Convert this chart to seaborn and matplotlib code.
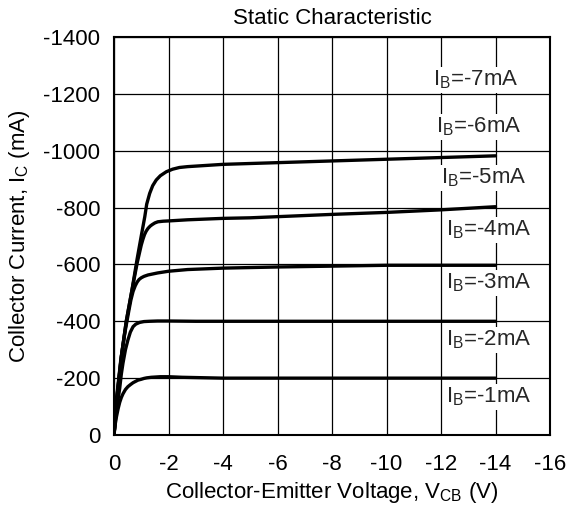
import numpy as np
import pandas as pd
import seaborn as sns
import matplotlib
matplotlib.use("Agg")
import matplotlib.pyplot as plt

# 読み取った特性曲線 (V_CB [V], I_C [mA])
v_ib1 = [0, -0.04, -0.09, -0.15, -0.21, -0.27, -0.33, -0.42, -0.51, -0.6, -0.7, -0.8, -0.88, -1.0, -1.1, -1.2, -1.37,
         -1.7, -2.0, -2.5, -3, -4, -6, -8, -10, -12, -14]
i_ib1 = [0, -35, -64, -92, -115, -132, -145, -160, -170, -177, -184, -189, -193, -196, -199, -201, -203,
         -205, -205, -203, -202, -200, -200, -200, -200, -200, -200]

v_ib2 = [0, -0.08, -0.15, -0.21, -0.27, -0.33, -0.42, -0.51, -0.6, -0.7, -0.8, -0.94, -1.1, -1.3, -1.6, -2, -3, -5,
         -8, -11, -14]
i_ib2 = [0, -80, -125, -165, -215, -253, -300, -334, -362, -381, -390, -396, -399, -400, -401, -401, -400, -400,
         -400, -400, -400]

v_ib3 = [0, -0.1, -0.25, -0.4, -0.55, -0.62, -0.7, -0.78, -0.85, -0.92, -1.0, -1.1, -1.25, -1.6, -2.0, -2.7, -4,
         -6, -8, -10, -12, -14]
i_ib3 = [0, -135, -265, -360, -440, -475, -505, -525, -538, -547, -553, -558, -563, -570, -576, -582, -587,
         -591, -594, -597, -597, -597]

v_ib4 = [0, -0.1, -0.27, -0.45, -0.66, -0.85, -1.0, -1.06, -1.12, -1.18, -1.25, -1.33, -1.4, -1.5, -1.61, -1.8,
         -2.0, -2.7, -4, -5, -6, -7, -8, -10, -12, -14]
i_ib4 = [0, -125, -276, -400, -510, -605, -668, -688, -705, -717, -727, -735, -740, -746, -750, -752,
         -753, -757, -762, -764, -768, -772, -776, -783, -792, -803]

v_ib5 = [0, -0.1, -0.27, -0.45, -0.66, -0.85, -1.0, -1.13, -1.2, -1.31, -1.42, -1.55, -1.7, -1.92, -2.15, -2.4,
         -2.7, -4, -6, -8, -10, -12, -14]
i_ib5 = [0, -125, -276, -400, -510, -620, -700, -768, -812, -850, -877, -897, -912, -926, -935, -941,
         -944, -952, -958, -964, -970, -976, -982]

curve_names = ["-1mA", "-2mA", "-3mA", "-4mA", "-5mA"]
curve_v = [v_ib1, v_ib2, v_ib3, v_ib4, v_ib5]
curve_i = [i_ib1, i_ib2, i_ib3, i_ib4, i_ib5]

# ラベル文字列と配置 (左端の V, 中心の I)
label_texts = ["-1mA", "-2mA", "-3mA", "-4mA", "-5mA", "-6mA", "-7mA"]
label_v = [-12.2, -12.2, -12.2, -12.2, -12.0, -11.8, -11.7]
label_i = [-134, -334, -535, -721, -904, -1083, -1249]

x_ticks = [0, -2, -4, -6, -8, -10, -12, -14, -16]
y_ticks = [0, -200, -400, -600, -800, -1000, -1200, -1400]


def main():
    rows = []
    for name, vs, cs in zip(curve_names, curve_v, curve_i):
        for k, (v, c) in enumerate(zip(vs, cs)):
            rows.append({"IB": name, "order": k, "V": v, "I": c})
    df = pd.DataFrame(rows)

    sns.set_theme(style="white")
    plt.rcParams["font.family"] = ["Liberation Sans", "DejaVu Sans"]
    plt.rcParams["mathtext.default"] = "regular"
    plt.rcParams["axes.unicode_minus"] = False

    fig = plt.figure(figsize=(5.68, 5.13), dpi=100)
    ax = fig.add_axes([114 / 568, 1 - 435 / 513, 436 / 568, 398 / 513])

    for name in curve_names:
        sub = df[df["IB"] == name]
        sns.lineplot(data=sub, x="V", y="I", sort=False, estimator=None,
                     color="black", linewidth=2.4, ax=ax)

    ax.set_xlim(0, -16)
    ax.set_ylim(0, -1400)
    ax.set_xticks(x_ticks)
    ax.set_yticks(y_ticks)
    ax.set_xticklabels([str(t) for t in x_ticks])
    ax.set_yticklabels([str(t) for t in y_ticks])
    ax.tick_params(axis="y", labelsize=16, length=0, pad=10, colors="black")
    ax.tick_params(axis="x", labelsize=16, length=0, pad=14, colors="black")
    ax.grid(True, color="black", linewidth=0.9)
    ax.set_axisbelow(True)
    for s in ax.spines.values():
        s.set_color("black")
        s.set_linewidth(1.5)

    for txt, v, c in zip(label_texts, label_v, label_i):
        ax.text(v, c, "I$_{B}$=" + txt, fontsize=16, ha="left", va="center",
                bbox=dict(facecolor="white", edgecolor="none", pad=1.0), zorder=3)

    ax.set_title("Static Characteristic", fontsize=16, pad=9, color="black")
    ax.set_xlabel("Collector-Emitter Voltage, V$_{CB}$ (V)", fontsize=16, labelpad=3, color="black")
    ax.set_ylabel("Collector Current, I$_{C}$ (mA)", fontsize=16, labelpad=8, color="black")

    fig.savefig("out.png", dpi=100)
    plt.close(fig)


if __name__ == "__main__":
    main()
